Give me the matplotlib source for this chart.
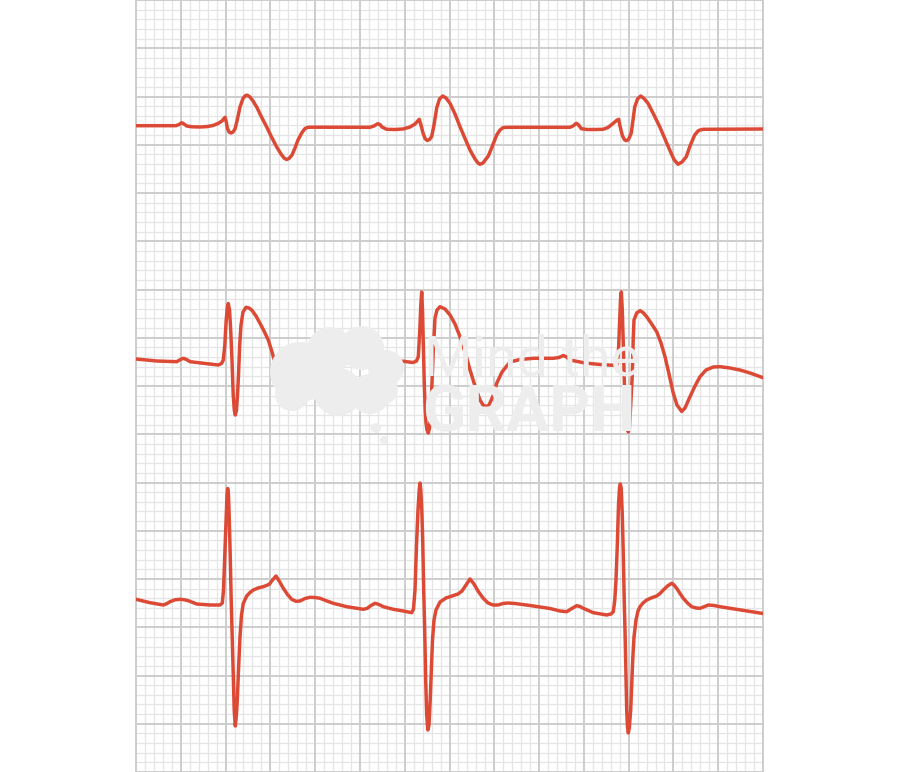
import numpy as np
import matplotlib
matplotlib.use("Agg")
import matplotlib.pyplot as plt
from matplotlib.patches import Circle

# trace points (x = time, y = deflection, both in image px)
row1 = [(136,125.7),(176,125.7),(179,124.5),(181.7,122.7),(184,124),(186.7,126),(192,126.8),(200,127),
        (207,126.6),(213,125.5),(218,123.5),(222,121),(225,117.3),(226.3,122),(227.3,128),(229,132),
        (231,133),(233,132),(235,129),(237,121),(240,107),(243,98.5),(245.5,95.5),(247.3,95.2),(250,97),
        (253,101),(256.7,107),(261,116),(266.7,127),(271,136),(276.7,147),(281,154),(284,158),(286.5,159.5),
        (289,158.5),(292,155),(295,148),(298,140),(301.7,133),(305,128.5),(308,127.3),(312,127.2),
        (370,127.3),(374,126),(377.7,123.7),(380,124.5),(382,127),(386.7,129.3),(395,129.5),(403,129),
        (410,127),(415,124),(419.3,119.3),(421,125),(423,133),(425,138.5),(427.3,140.5),(429.5,139.5),
        (431.7,136.5),(434,125),(436.7,108),(439.5,99),(442.7,96),(446,98),(450,103.3),(455,114),
        (460,126.7),(465,138.5),(470,150),(475,159),(478,163),(480,164.3),(483,163),(486,159),(488.3,156),
        (492,147),(496.7,135),(500,130),(503.3,127.5),(508,127.3),(570,127.3),(573,126),(576.3,123.3),
        (578.5,124.8),(581.3,128.7),(587,129.5),(596,129.5),(603,129.3),(608,127.5),(613,123.5),
        (616.5,120.5),(618.7,119.3),(620,126),(622.3,135.5),(624.5,139.8),(626.3,140.7),(628.5,139.5),
        (631.3,133),(633,120),(634.7,107),(637.5,99),(640.7,96),(644,98.5),(648,103.3),(654,115),
        (659.7,126.7),(665,139),(669.7,150),(674,159.5),(678,164.3),(682,162),(686.3,156.7),(690,146),
        (694.7,135),(698.5,130.5),(703,129.3),(763,129)]

row2 = [(136,359),(156.7,361),(176.7,361.7),(180.5,359.5),(183.3,358.3),(186.5,359.5),(190,361.7),
        (203.3,363.3),(218.3,365),(221.5,363.5),(223.3,360),(224.8,345),(226.2,320),(227.3,308),
        (228.3,303.5),(229.5,310),(230.7,330),(232,360),(233.2,395),(234.3,410),(235.3,415),(236.5,410),
        (237.5,395),(238.5,375),(239.7,345),(241,325),(243,312),(246,307.3),(249,308),(251.7,310),
        (256,316),(260,323.3),(264,331),(268.3,340),(272,352),(276.7,368.3),(280,382),(283.3,393.3),
        (286.5,398),(289.3,398.5),(292,396),(296,389),(300,380),(305,372),(310,366.7),(315,361),
        (320,357.5),(330,357),(345,358),(360,359),(368,357),(372,355),(376,358),(380,359),(393,360),
        (405,361.5),(413,362.5),(416.5,361),(418.3,356.7),(419.8,330),(420.8,305),(421.7,292),(422.5,310),
        (423.3,345),(424.3,385),(425.2,410),(426,423),(427,430),(428.3,433),(429.5,428),(430.5,410),
        (431.7,390),(433.3,350),(435,318),(437,310),(440,306.7),(445,309),(450,315),(455,324),
        (460,336.7),(465,352),(470,370),(475,386),(480,400),(483,405),(486,406.7),(489,405),(493,396),
        (496.7,383.3),(502,372),(510,362),(520,359.5),(533.3,358.3),(553.3,358.3),(559,357.5),
        (563.3,355.5),(566.5,357),(570,360),(585,363),(600,364.5),(616.7,365.5),(618.3,355),(619.5,325),
        (620.5,300),(621.3,292),(622.3,310),(623.3,345),(624.3,380),(625.2,405),(626,418),(627.2,428),
        (628.3,432),(629.5,428),(630.5,410),(631.5,390),(632.3,375),(633.2,340),(634,320),(636.7,313),
        (640,310.7),(643,312.5),(646.7,316.7),(651,323),(656.7,331.7),(661,343),(665,356.7),(669,374),
        (673.3,393.3),(677,405),(681.7,411.5),(685,408),(690,396.7),(695,386),(700,376.7),(706,370),
        (713.3,367),(720,366.7),(730,368),(740,370),(750,373),(763,377.7)]

row3 = [(136,599.3),(150,602.7),(163.3,605),(167,603.5),(170,601.7),(175,599.8),(180,599.3),(184,599.7),
        (188.3,600.7),(196.7,604),(210,605),(220,605),(222.3,603),(223.5,590),(224.8,555),(226,520),
        (227,495),(227.7,488.5),(228.5,495),(229.3,520),(230.2,555),(231.2,600),(232.3,640),(233.3,680),
        (234.2,710),(235.3,726),(236.4,715),(237.3,700),(238.5,670),(240,636.7),(241.5,615),(243.3,603.3),
        (246.7,596),(250,592.5),(253.3,590),(258,588),(263.3,586.7),(269.3,584.3),(272.5,580),(276,576),
        (279.5,581.5),(283.3,588.3),(287.5,594.5),(291.7,599.3),(296,601.3),(300,601),(305,598.5),
        (310,597.3),(315,597.5),(320,598.3),(327,601),(333.3,603.3),(346.7,606.7),(363.3,609.3),
        (367.3,608.3),(371,605.5),(375,603.3),(379,604.5),(383.3,606.7),(393.3,609.3),(403.3,611),
        (411.7,612.7),(413.5,609),(415,590),(416.5,545),(418,510),(419.2,490),(420,483),(420.8,490),
        (421.8,510),(422.7,540),(423.7,590),(424.7,630),(425.7,680),(426.7,715),(427.8,730),(429,725),
        (430.2,700),(431.3,670),(432.5,640),(434,620),(436,610),(440,602),(446,598),(452,596),(458,594),
        (462,591),(466,585),(470,579),(474,584),(478,591),(483,598),(488,603),(493,605),(498,605),
        (503,603.5),(508,603),(515,603.5),(530,605.5),(550,608.5),(560,611),(566.7,611.7),(571,609),
        (576.7,605.7),(580,606.5),(583.3,608.3),(593.3,612.7),(606.7,615),(611,614),(613.3,611.7),
        (614.8,600),(616,580),(617.3,545),(618.5,505),(619.5,488),(620.3,484),(621.2,488),(622.3,515),
        (623.3,555),(624.2,600),(625,630),(626,680),(626.7,710),(627.5,727),(628.3,733),(629.3,728),
        (630.7,710),(631.7,685),(632.7,660),(634,637),(636,620),(638,611),(640,606.7),(643,603),
        (646.7,600),(651,598),(656.7,596),(660,593.5),(663.3,590),(667.5,586),(671.7,583.3),(674,585),
        (676.7,588.3),(680,593.5),(683.3,598.3),(687.5,603),(691.7,606.7),(696,608),(700,608.3),
        (704,606.8),(708.3,605),(714,605.5),(720,606.7),(730,608.3),(740,610),(750,611.5),(763,613.5)]

# logo blobs (centre x, centre y, radius)
logo_blobs = [(300,372,30),(330,350,23),(362,348,22),(386,368,18),(338,392,24),(370,394,20),
              (292,394,17),(318,378,22),(384,390,14),(376,428,5),(384,440,4)]

ECG_RED = "#dc4a36"
MAJOR = "#cdcdcd"
MINOR = "#e5e5e5"
MARK = "#ededed"

fig = plt.figure(figsize=(9, 7.72), dpi=100)
ax = fig.add_axes([136/900, 0, 627/900, 1])
ax.set_xlim(136, 763)
ax.set_ylim(772, 0)

# ecg paper: 14 x 16 big squares, 5 small squares each
x0, x1, y0, y1 = 136, 763, 0, 772
bx = (x1 - x0) / 14
by = (y1 - y0) / 16
for i in range(14*5 + 1):
    x = x0 + i * bx / 5
    major = i % 5 == 0
    ax.axvline(x, color=MAJOR if major else MINOR, lw=1.4 if major else 0.9, zorder=1 if major else 0)
for j in range(16*5 + 1):
    y = y0 + j * by / 5
    major = j % 5 == 0
    ax.axhline(y, color=MAJOR if major else MINOR, lw=1.4 if major else 0.9, zorder=1 if major else 0)

for row in (row1, row2, row3):
    xs, ys = zip(*row)
    ax.plot(xs, ys, color=ECG_RED, lw=2.5, solid_joinstyle="round", solid_capstyle="round", zorder=3)

# watermark
for cx, cy, r in logo_blobs:
    ax.add_patch(Circle((cx, cy), r, color=MARK, zorder=4, lw=0))
ax.text(424, 376, "Mind the", fontsize=40, family="Roboto", fontweight="normal",
        color=MARK, zorder=4, ha="left", va="baseline")
ax.text(422, 432, "GRAPH", fontsize=46, family="Roboto", fontweight="bold",
        color=MARK, zorder=4, ha="left", va="baseline")

for s in ax.spines.values():
    s.set_color(MAJOR)
    s.set_linewidth(1.4)
ax.set_xticks([])
ax.set_yticks([])

fig.savefig("out.png", dpi=100)
